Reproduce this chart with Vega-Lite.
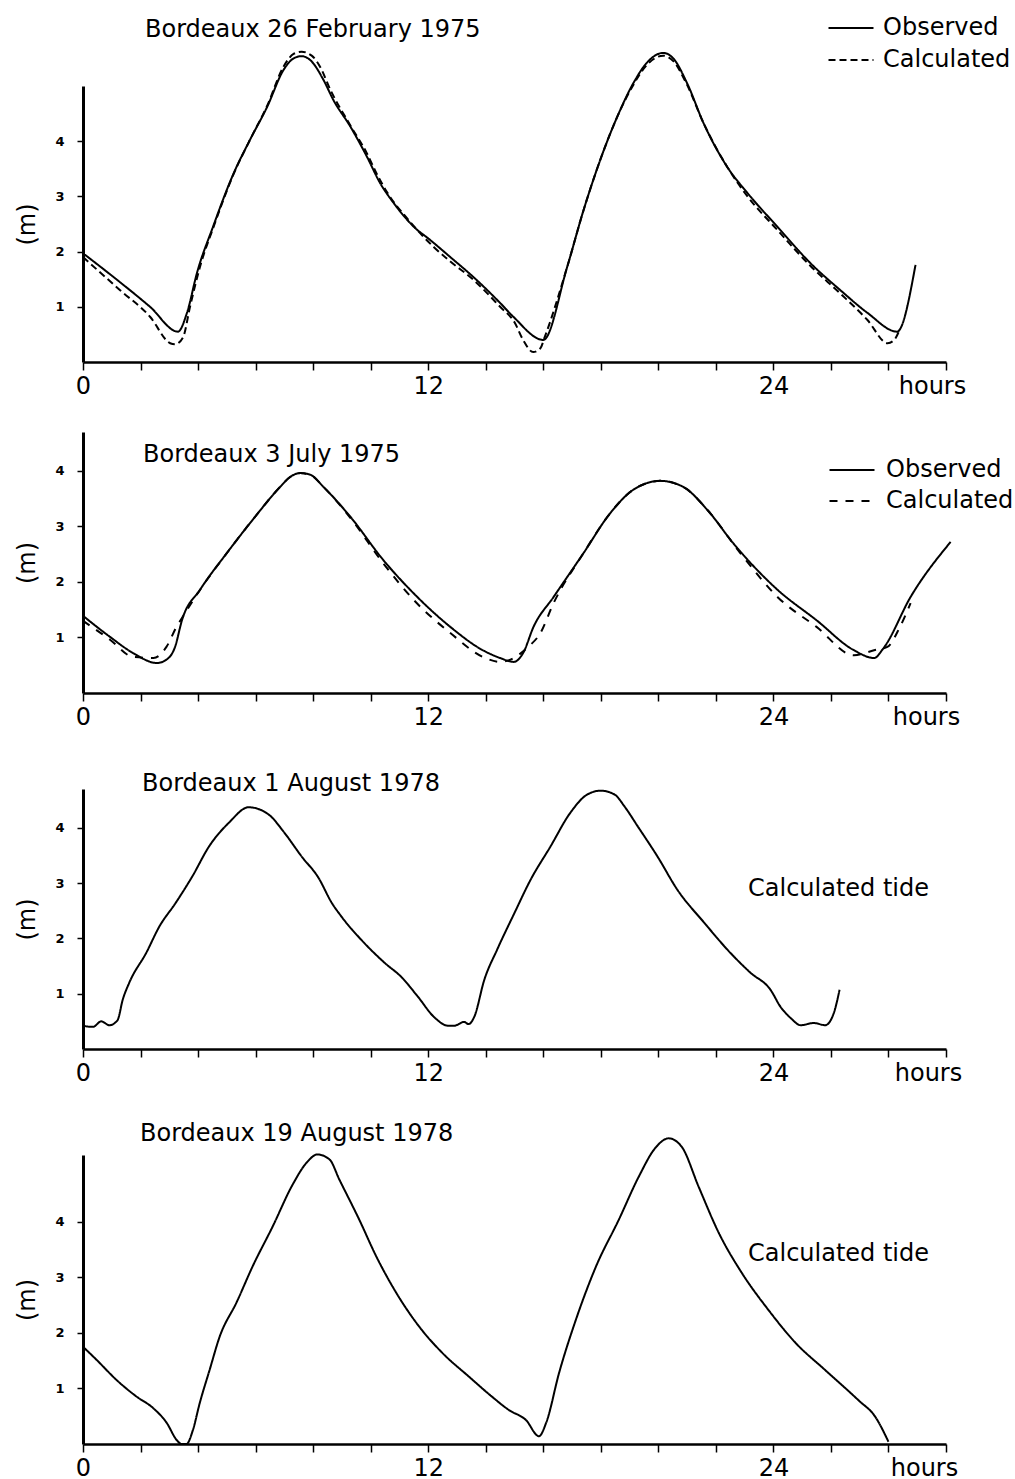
{
  "$schema": "https://vega.github.io/schema/vega-lite/v6.json",
  "padding": {"left": 15, "top": 16, "right": 5, "bottom": 5},
  "background": "white",
  "vconcat": [
    {
      "width": 863,
      "height": 276,
      "title": {"text": "Bordeaux 26 February 1975", "anchor": "start", "frame": "group", "offset": 0, "dx": 62, "dy": 26},
      "data": {"values": [
        {"hour": 0, "level": 1.97, "series": "Observed"}, {"hour": 1.18, "level": 1.49, "series": "Observed"}, {"hour": 2.33, "level": 1.0, "series": "Observed"}, {"hour": 3.3, "level": 0.55, "series": "Observed"}, {"hour": 3.62, "level": 0.9, "series": "Observed"}, {"hour": 3.96, "level": 1.61, "series": "Observed"}, {"hour": 4.52, "level": 2.45, "series": "Observed"}, {"hour": 5.23, "level": 3.41, "series": "Observed"}, {"hour": 5.8, "level": 4.02, "series": "Observed"}, {"hour": 6.4, "level": 4.62, "series": "Observed"}, {"hour": 6.97, "level": 5.29, "series": "Observed"}, {"hour": 7.32, "level": 5.5, "series": "Observed"}, {"hour": 7.6, "level": 5.54, "series": "Observed"}, {"hour": 7.9, "level": 5.47, "series": "Observed"}, {"hour": 8.36, "level": 5.11, "series": "Observed"}, {"hour": 8.7, "level": 4.75, "series": "Observed"}, {"hour": 9.3, "level": 4.26, "series": "Observed"}, {"hour": 9.87, "level": 3.72, "series": "Observed"}, {"hour": 10.33, "level": 3.24, "series": "Observed"}, {"hour": 10.8, "level": 2.88, "series": "Observed"}, {"hour": 11.5, "level": 2.45, "series": "Observed"}, {"hour": 12.07, "level": 2.21, "series": "Observed"}, {"hour": 12.77, "level": 1.9, "series": "Observed"}, {"hour": 13.57, "level": 1.54, "series": "Observed"}, {"hour": 14.5, "level": 1.07, "series": "Observed"}, {"hour": 14.96, "level": 0.82, "series": "Observed"}, {"hour": 16.0, "level": 0.4, "series": "Observed"}, {"hour": 16.83, "level": 1.72, "series": "Observed"}, {"hour": 17.4, "level": 2.75, "series": "Observed"}, {"hour": 17.98, "level": 3.66, "series": "Observed"}, {"hour": 18.57, "level": 4.44, "series": "Observed"}, {"hour": 19.13, "level": 5.05, "series": "Observed"}, {"hour": 19.6, "level": 5.42, "series": "Observed"}, {"hour": 20.17, "level": 5.6, "series": "Observed"}, {"hour": 20.52, "level": 5.5, "series": "Observed"}, {"hour": 21.0, "level": 5.05, "series": "Observed"}, {"hour": 21.57, "level": 4.33, "series": "Observed"}, {"hour": 22.4, "level": 3.53, "series": "Observed"}, {"hour": 23.1, "level": 3.06, "series": "Observed"}, {"hour": 24.14, "level": 2.45, "series": "Observed"}, {"hour": 25.29, "level": 1.79, "series": "Observed"}, {"hour": 26.33, "level": 1.3, "series": "Observed"}, {"hour": 27.27, "level": 0.89, "series": "Observed"}, {"hour": 28.3, "level": 0.55, "series": "Observed"}, {"hour": 28.94, "level": 1.76, "series": "Observed"},
        {"hour": 0, "level": 1.9, "series": "Calculated"}, {"hour": 1.29, "level": 1.3, "series": "Calculated"}, {"hour": 2.33, "level": 0.82, "series": "Calculated"}, {"hour": 3.03, "level": 0.34, "series": "Calculated"}, {"hour": 3.2, "level": 0.32, "series": "Calculated"}, {"hour": 3.48, "level": 0.45, "series": "Calculated"}, {"hour": 3.72, "level": 1.0, "series": "Calculated"}, {"hour": 4.07, "level": 1.73, "series": "Calculated"}, {"hour": 4.52, "level": 2.42, "series": "Calculated"}, {"hour": 5.23, "level": 3.4, "series": "Calculated"}, {"hour": 5.8, "level": 4.02, "series": "Calculated"}, {"hour": 6.4, "level": 4.64, "series": "Calculated"}, {"hour": 6.97, "level": 5.35, "series": "Calculated"}, {"hour": 7.32, "level": 5.58, "series": "Calculated"}, {"hour": 7.6, "level": 5.62, "series": "Calculated"}, {"hour": 7.95, "level": 5.55, "series": "Calculated"}, {"hour": 8.24, "level": 5.35, "series": "Calculated"}, {"hour": 8.6, "level": 4.93, "series": "Calculated"}, {"hour": 9.3, "level": 4.28, "series": "Calculated"}, {"hour": 9.87, "level": 3.78, "series": "Calculated"}, {"hour": 10.2, "level": 3.42, "series": "Calculated"}, {"hour": 10.6, "level": 3.05, "series": "Calculated"}, {"hour": 11.27, "level": 2.6, "series": "Calculated"}, {"hour": 12.2, "level": 2.08, "series": "Calculated"}, {"hour": 12.77, "level": 1.82, "series": "Calculated"}, {"hour": 13.57, "level": 1.49, "series": "Calculated"}, {"hour": 14.5, "level": 1.0, "series": "Calculated"}, {"hour": 15.0, "level": 0.72, "series": "Calculated"}, {"hour": 15.3, "level": 0.4, "series": "Calculated"}, {"hour": 15.65, "level": 0.18, "series": "Calculated"}, {"hour": 15.9, "level": 0.25, "series": "Calculated"}, {"hour": 16.05, "level": 0.45, "series": "Calculated"}, {"hour": 16.83, "level": 1.72, "series": "Calculated"}, {"hour": 17.4, "level": 2.75, "series": "Calculated"}, {"hour": 17.98, "level": 3.66, "series": "Calculated"}, {"hour": 18.57, "level": 4.44, "series": "Calculated"}, {"hour": 19.13, "level": 5.02, "series": "Calculated"}, {"hour": 19.6, "level": 5.38, "series": "Calculated"}, {"hour": 20.17, "level": 5.55, "series": "Calculated"}, {"hour": 20.52, "level": 5.45, "series": "Calculated"}, {"hour": 21.0, "level": 5.02, "series": "Calculated"}, {"hour": 21.57, "level": 4.33, "series": "Calculated"}, {"hour": 22.4, "level": 3.53, "series": "Calculated"}, {"hour": 23.1, "level": 3.0, "series": "Calculated"}, {"hour": 24.14, "level": 2.39, "series": "Calculated"}, {"hour": 25.29, "level": 1.74, "series": "Calculated"}, {"hour": 26.33, "level": 1.24, "series": "Calculated"}, {"hour": 27.27, "level": 0.76, "series": "Calculated"}, {"hour": 27.97, "level": 0.34, "series": "Calculated"}, {"hour": 28.2, "level": 0.4, "series": "Calculated"}, {"hour": 28.4, "level": 0.6, "series": "Calculated"}
      ]},
      "mark": {"type": "line", "strokeWidth": 2, "color": "black", "interpolate": "monotone"},
      "encoding": {
        "x": {"field": "hour", "type": "quantitative", "scale": {"domain": [0, 30], "nice": false, "zero": false},
          "axis": {"title": null, "values": [0, 2, 4, 6, 8, 10, 12, 14, 16, 18, 20, 22, 24, 26, 28, 30], "labelExpr": "datum.value == 30 ? 'hours' : (datum.value % 12 == 0 ? datum.label : '')", "labelOffset": {"condition": {"test": "datum.value == 30", "value": -14}, "value": 0}}},
        "y": {"field": "level", "type": "quantitative", "scale": {"domain": [0, 5], "nice": false, "range": [276, 0]},
          "axis": {"title": "(m)", "values": [1, 2, 3, 4]}},
        "strokeDash": {"field": "series", "type": "nominal", "scale": {"domain": ["Observed", "Calculated"], "range": [[1, 0], [7, 4]]},
          "legend": {"orient": "none", "legendX": 756, "legendY": -70, "labelOffset": 20}}
      }
    },
    {
      "width": 863,
      "height": 331,
      "title": {"text": "Bordeaux 3 July 1975", "anchor": "start", "frame": "group", "offset": 0, "dx": 60, "dy": 105},
      "data": {"values": [
        {"hour": 0, "level": 1.39, "series": "Observed"}, {"hour": 0.94, "level": 1.01, "series": "Observed"}, {"hour": 1.74, "level": 0.72, "series": "Observed"}, {"hour": 2.57, "level": 0.54, "series": "Observed"}, {"hour": 2.9, "level": 0.6, "series": "Observed"}, {"hour": 3.2, "level": 0.83, "series": "Observed"}, {"hour": 3.44, "level": 1.31, "series": "Observed"}, {"hour": 4.07, "level": 1.86, "series": "Observed"}, {"hour": 5.0, "level": 2.52, "series": "Observed"}, {"hour": 5.9, "level": 3.12, "series": "Observed"}, {"hour": 6.85, "level": 3.71, "series": "Observed"}, {"hour": 7.2, "level": 3.89, "series": "Observed"}, {"hour": 7.55, "level": 3.96, "series": "Observed"}, {"hour": 7.9, "level": 3.93, "series": "Observed"}, {"hour": 8.36, "level": 3.71, "series": "Observed"}, {"hour": 9.3, "level": 3.17, "series": "Observed"}, {"hour": 10.43, "level": 2.4, "series": "Observed"}, {"hour": 11.6, "level": 1.74, "series": "Observed"}, {"hour": 12.77, "level": 1.19, "series": "Observed"}, {"hour": 13.9, "level": 0.77, "series": "Observed"}, {"hour": 14.5, "level": 0.63, "series": "Observed"}, {"hour": 14.97, "level": 0.56, "series": "Observed"}, {"hour": 15.3, "level": 0.72, "series": "Observed"}, {"hour": 15.66, "level": 1.19, "series": "Observed"}, {"hour": 16.36, "level": 1.73, "series": "Observed"}, {"hour": 17.4, "level": 2.52, "series": "Observed"}, {"hour": 18.33, "level": 3.24, "series": "Observed"}, {"hour": 19.13, "level": 3.66, "series": "Observed"}, {"hour": 20.07, "level": 3.82, "series": "Observed"}, {"hour": 20.87, "level": 3.71, "series": "Observed"}, {"hour": 21.7, "level": 3.3, "series": "Observed"}, {"hour": 22.6, "level": 2.7, "series": "Observed"}, {"hour": 24.14, "level": 1.86, "series": "Observed"}, {"hour": 25.5, "level": 1.31, "series": "Observed"}, {"hour": 26.8, "level": 0.77, "series": "Observed"}, {"hour": 27.5, "level": 0.63, "series": "Observed"}, {"hour": 27.83, "level": 0.81, "series": "Observed"}, {"hour": 28.77, "level": 1.73, "series": "Observed"}, {"hour": 30.16, "level": 2.72, "series": "Observed"},
        {"hour": 0, "level": 1.3, "series": "Calculated"}, {"hour": 0.94, "level": 0.96, "series": "Calculated"}, {"hour": 1.74, "level": 0.65, "series": "Calculated"}, {"hour": 2.45, "level": 0.63, "series": "Calculated"}, {"hour": 2.9, "level": 0.83, "series": "Calculated"}, {"hour": 3.25, "level": 1.19, "series": "Calculated"}, {"hour": 3.44, "level": 1.35, "series": "Calculated"}, {"hour": 4.07, "level": 1.86, "series": "Calculated"}, {"hour": 5.0, "level": 2.52, "series": "Calculated"}, {"hour": 5.9, "level": 3.12, "series": "Calculated"}, {"hour": 6.85, "level": 3.71, "series": "Calculated"}, {"hour": 7.2, "level": 3.89, "series": "Calculated"}, {"hour": 7.55, "level": 3.96, "series": "Calculated"}, {"hour": 7.9, "level": 3.93, "series": "Calculated"}, {"hour": 8.36, "level": 3.71, "series": "Calculated"}, {"hour": 9.3, "level": 3.15, "series": "Calculated"}, {"hour": 10.43, "level": 2.34, "series": "Calculated"}, {"hour": 11.6, "level": 1.62, "series": "Calculated"}, {"hour": 12.77, "level": 1.08, "series": "Calculated"}, {"hour": 13.9, "level": 0.65, "series": "Calculated"}, {"hour": 14.5, "level": 0.56, "series": "Calculated"}, {"hour": 14.97, "level": 0.63, "series": "Calculated"}, {"hour": 15.43, "level": 0.81, "series": "Calculated"}, {"hour": 15.9, "level": 1.08, "series": "Calculated"}, {"hour": 16.36, "level": 1.62, "series": "Calculated"}, {"hour": 17.4, "level": 2.52, "series": "Calculated"}, {"hour": 18.33, "level": 3.24, "series": "Calculated"}, {"hour": 19.13, "level": 3.66, "series": "Calculated"}, {"hour": 20.07, "level": 3.82, "series": "Calculated"}, {"hour": 20.87, "level": 3.71, "series": "Calculated"}, {"hour": 21.7, "level": 3.3, "series": "Calculated"}, {"hour": 22.85, "level": 2.52, "series": "Calculated"}, {"hour": 24.14, "level": 1.73, "series": "Calculated"}, {"hour": 25.5, "level": 1.19, "series": "Calculated"}, {"hour": 26.8, "level": 0.68, "series": "Calculated"}, {"hour": 27.5, "level": 0.77, "series": "Calculated"}, {"hour": 27.96, "level": 0.83, "series": "Calculated"}, {"hour": 28.4, "level": 1.19, "series": "Calculated"}, {"hour": 28.77, "level": 1.62, "series": "Calculated"}
      ]},
      "mark": {"type": "line", "strokeWidth": 2, "color": "black", "interpolate": "monotone"},
      "encoding": {
        "x": {"field": "hour", "type": "quantitative", "scale": {"domain": [0, 30], "nice": false, "zero": false},
          "axis": {"title": null, "values": [0, 2, 4, 6, 8, 10, 12, 14, 16, 18, 20, 22, 24, 26, 28, 30], "labelExpr": "datum.value == 30 ? 'hours' : (datum.value % 12 == 0 ? datum.label : '')", "labelOffset": {"condition": {"test": "datum.value == 30", "value": -20}, "value": 0}}},
        "y": {"field": "level", "type": "quantitative", "scale": {"domain": [0, 4.7], "nice": false, "range": [331, 70]},
          "axis": {"title": "(m)", "values": [1, 2, 3, 4]}},
        "strokeDash": {"field": "series", "type": "nominal", "scale": {"domain": ["Observed", "Calculated"], "range": [[1, 0], [8, 8]]},
          "legend": {"orient": "none", "legendX": 757, "legendY": 96, "labelOffset": 22, "rowPadding": 7}}
      }
    },
    {
      "width": 863,
      "height": 356,
      "title": {"text": "Bordeaux 1 August 1978", "anchor": "start", "frame": "group", "offset": 0, "dx": 59, "dy": 103},
      "data": {"values": [
        {"hour": 0, "level": 0.42, "series": "Calculated tide"}, {"hour": 0.35, "level": 0.4, "series": "Calculated tide"}, {"hour": 0.63, "level": 0.5, "series": "Calculated tide"}, {"hour": 0.92, "level": 0.43, "series": "Calculated tide"}, {"hour": 1.2, "level": 0.52, "series": "Calculated tide"}, {"hour": 1.38, "level": 0.89, "series": "Calculated tide"}, {"hour": 1.61, "level": 1.2, "series": "Calculated tide"}, {"hour": 2.2, "level": 1.74, "series": "Calculated tide"}, {"hour": 2.65, "level": 2.21, "series": "Calculated tide"}, {"hour": 3.22, "level": 2.64, "series": "Calculated tide"}, {"hour": 3.8, "level": 3.12, "series": "Calculated tide"}, {"hour": 4.38, "level": 3.66, "series": "Calculated tide"}, {"hour": 5.07, "level": 4.09, "series": "Calculated tide"}, {"hour": 5.76, "level": 4.37, "series": "Calculated tide"}, {"hour": 6.45, "level": 4.24, "series": "Calculated tide"}, {"hour": 7.0, "level": 3.91, "series": "Calculated tide"}, {"hour": 7.6, "level": 3.48, "series": "Calculated tide"}, {"hour": 8.18, "level": 3.1, "series": "Calculated tide"}, {"hour": 8.65, "level": 2.64, "series": "Calculated tide"}, {"hour": 8.99, "level": 2.39, "series": "Calculated tide"}, {"hour": 9.68, "level": 1.97, "series": "Calculated tide"}, {"hour": 10.48, "level": 1.56, "series": "Calculated tide"}, {"hour": 11.07, "level": 1.3, "series": "Calculated tide"}, {"hour": 11.65, "level": 0.94, "series": "Calculated tide"}, {"hour": 12.2, "level": 0.58, "series": "Calculated tide"}, {"hour": 12.7, "level": 0.42, "series": "Calculated tide"}, {"hour": 12.9, "level": 0.42, "series": "Calculated tide"}, {"hour": 13.25, "level": 0.49, "series": "Calculated tide"}, {"hour": 13.4, "level": 0.45, "series": "Calculated tide"}, {"hour": 13.6, "level": 0.58, "series": "Calculated tide"}, {"hour": 13.95, "level": 1.25, "series": "Calculated tide"}, {"hour": 14.4, "level": 1.8, "series": "Calculated tide"}, {"hour": 15.0, "level": 2.46, "series": "Calculated tide"}, {"hour": 15.56, "level": 3.06, "series": "Calculated tide"}, {"hour": 16.25, "level": 3.66, "series": "Calculated tide"}, {"hour": 16.94, "level": 4.27, "series": "Calculated tide"}, {"hour": 17.53, "level": 4.6, "series": "Calculated tide"}, {"hour": 18.0, "level": 4.67, "series": "Calculated tide"}, {"hour": 18.48, "level": 4.6, "series": "Calculated tide"}, {"hour": 18.83, "level": 4.38, "series": "Calculated tide"}, {"hour": 19.29, "level": 4.02, "series": "Calculated tide"}, {"hour": 19.97, "level": 3.48, "series": "Calculated tide"}, {"hour": 20.66, "level": 2.88, "series": "Calculated tide"}, {"hour": 21.6, "level": 2.28, "series": "Calculated tide"}, {"hour": 22.5, "level": 1.74, "series": "Calculated tide"}, {"hour": 23.2, "level": 1.38, "series": "Calculated tide"}, {"hour": 23.9, "level": 1.07, "series": "Calculated tide"}, {"hour": 24.25, "level": 0.76, "series": "Calculated tide"}, {"hour": 24.6, "level": 0.56, "series": "Calculated tide"}, {"hour": 24.95, "level": 0.43, "series": "Calculated tide"}, {"hour": 25.4, "level": 0.47, "series": "Calculated tide"}, {"hour": 25.8, "level": 0.43, "series": "Calculated tide"}, {"hour": 26.1, "level": 0.65, "series": "Calculated tide"}, {"hour": 26.3, "level": 1.07, "series": "Calculated tide"}
      ]},
      "mark": {"type": "line", "strokeWidth": 2, "color": "black", "interpolate": "monotone"},
      "encoding": {
        "x": {"field": "hour", "type": "quantitative", "scale": {"domain": [0, 30], "nice": false, "zero": false},
          "axis": {"title": null, "values": [0, 2, 4, 6, 8, 10, 12, 14, 16, 18, 20, 22, 24, 26, 28, 30], "labelExpr": "datum.value == 30 ? 'hours' : (datum.value % 12 == 0 ? datum.label : '')", "labelOffset": {"condition": {"test": "datum.value == 30", "value": -18}, "value": 0}}},
        "y": {"field": "level", "type": "quantitative", "scale": {"domain": [0, 4.7], "nice": false, "range": [356, 96]},
          "axis": {"title": "(m)", "values": [1, 2, 3, 4]}},
        "strokeDash": {"field": "series", "type": "nominal", "scale": {"domain": ["Calculated tide"], "range": [[1, 0]]},
          "legend": {"orient": "none", "legendX": 617, "legendY": 184, "labelOffset": 24, "symbolOpacity": 0}}
      }
    },
    {
      "width": 863,
      "height": 395,
      "title": {"text": "Bordeaux 19 August 1978", "anchor": "start", "frame": "group", "offset": 0, "dx": 57, "dy": 97},
      "data": {"values": [
        {"hour": 0, "level": 1.75, "series": "Calculated tide"}, {"hour": 0.48, "level": 1.51, "series": "Calculated tide"}, {"hour": 1.17, "level": 1.15, "series": "Calculated tide"}, {"hour": 1.87, "level": 0.85, "series": "Calculated tide"}, {"hour": 2.43, "level": 0.65, "series": "Calculated tide"}, {"hour": 2.91, "level": 0.38, "series": "Calculated tide"}, {"hour": 3.26, "level": 0.07, "series": "Calculated tide"}, {"hour": 3.43, "level": 0.0, "series": "Calculated tide"}, {"hour": 3.6, "level": 0.0, "series": "Calculated tide"}, {"hour": 3.82, "level": 0.25, "series": "Calculated tide"}, {"hour": 4.06, "level": 0.74, "series": "Calculated tide"}, {"hour": 4.4, "level": 1.33, "series": "Calculated tide"}, {"hour": 4.75, "level": 1.93, "series": "Calculated tide"}, {"hour": 5.34, "level": 2.55, "series": "Calculated tide"}, {"hour": 5.9, "level": 3.2, "series": "Calculated tide"}, {"hour": 6.59, "level": 3.91, "series": "Calculated tide"}, {"hour": 7.28, "level": 4.66, "series": "Calculated tide"}, {"hour": 7.77, "level": 5.06, "series": "Calculated tide"}, {"hour": 8.15, "level": 5.21, "series": "Calculated tide"}, {"hour": 8.57, "level": 5.12, "series": "Calculated tide"}, {"hour": 8.91, "level": 4.76, "series": "Calculated tide"}, {"hour": 9.6, "level": 4.04, "series": "Calculated tide"}, {"hour": 10.2, "level": 3.37, "series": "Calculated tide"}, {"hour": 10.89, "level": 2.72, "series": "Calculated tide"}, {"hour": 11.69, "level": 2.11, "series": "Calculated tide"}, {"hour": 12.49, "level": 1.64, "series": "Calculated tide"}, {"hour": 13.42, "level": 1.21, "series": "Calculated tide"}, {"hour": 14.22, "level": 0.85, "series": "Calculated tide"}, {"hour": 14.81, "level": 0.61, "series": "Calculated tide"}, {"hour": 15.4, "level": 0.43, "series": "Calculated tide"}, {"hour": 15.85, "level": 0.14, "series": "Calculated tide"}, {"hour": 16.1, "level": 0.38, "series": "Calculated tide"}, {"hour": 16.55, "level": 1.28, "series": "Calculated tide"}, {"hour": 17.13, "level": 2.23, "series": "Calculated tide"}, {"hour": 17.83, "level": 3.19, "series": "Calculated tide"}, {"hour": 18.63, "level": 4.04, "series": "Calculated tide"}, {"hour": 19.32, "level": 4.81, "series": "Calculated tide"}, {"hour": 19.9, "level": 5.33, "series": "Calculated tide"}, {"hour": 20.36, "level": 5.5, "series": "Calculated tide"}, {"hour": 20.81, "level": 5.35, "series": "Calculated tide"}, {"hour": 21.4, "level": 4.63, "series": "Calculated tide"}, {"hour": 22.1, "level": 3.8, "series": "Calculated tide"}, {"hour": 22.9, "level": 3.08, "series": "Calculated tide"}, {"hour": 23.83, "level": 2.41, "series": "Calculated tide"}, {"hour": 24.77, "level": 1.82, "series": "Calculated tide"}, {"hour": 25.8, "level": 1.33, "series": "Calculated tide"}, {"hour": 26.95, "level": 0.79, "series": "Calculated tide"}, {"hour": 27.54, "level": 0.49, "series": "Calculated tide"}, {"hour": 28.0, "level": 0.04, "series": "Calculated tide"}
      ]},
      "mark": {"type": "line", "strokeWidth": 2, "color": "black", "interpolate": "monotone"},
      "encoding": {
        "x": {"field": "hour", "type": "quantitative", "scale": {"domain": [0, 30], "nice": false, "zero": false},
          "axis": {"title": null, "values": [0, 2, 4, 6, 8, 10, 12, 14, 16, 18, 20, 22, 24, 26, 28, 30], "labelExpr": "datum.value == 30 ? 'hours' : (datum.value % 12 == 0 ? datum.label : '')", "labelOffset": {"condition": {"test": "datum.value == 30", "value": -22}, "value": 0}}},
        "y": {"field": "level", "type": "quantitative", "scale": {"domain": [0, 5.2], "nice": false, "range": [395, 106]},
          "axis": {"title": "(m)", "values": [1, 2, 3, 4]}},
        "strokeDash": {"field": "series", "type": "nominal", "scale": {"domain": ["Calculated tide"], "range": [[1, 0]]},
          "legend": {"orient": "none", "legendX": 617, "legendY": 193, "labelOffset": 24, "symbolOpacity": 0}}
      }
    }
  ],
  "spacing": 0,
  "bounds": "flush",
  "resolve": {"scale": {"strokeDash": "independent", "x": "independent", "y": "independent"}, "legend": {"strokeDash": "independent"}},
  "config": {
    "view": {"stroke": null},
    "font": "DejaVu Sans",
    "title": {"font": "DejaVu Sans", "fontSize": 24, "fontWeight": "normal", "color": "black"},
    "axis": {"grid": false, "domainColor": "black", "tickColor": "black", "labelColor": "black", "titleColor": "black", "labelFont": "DejaVu Sans", "titleFont": "DejaVu Sans"},
    "axisX": {"domainWidth": 2.5, "tickWidth": 1.5, "tickSize": 8, "labelFontSize": 24, "labelPadding": 4, "labelOverlap": false, "labelFlush": false},
    "axisY": {"domainWidth": 3, "tickWidth": 1.5, "tickSize": 6, "labelFontSize": 13, "labelFontWeight": "bold", "labelPadding": 13, "titleFontSize": 24, "titleFontWeight": "normal", "titlePadding": 15},
    "legend": {"title": null, "padding": 0, "symbolType": "M-2.5,0H2.5", "symbolSize": 324, "symbolStrokeWidth": 2, "symbolStrokeColor": "black", "labelFont": "DejaVu Sans", "labelFontSize": 24, "labelColor": "black", "labelLimit": 0, "rowPadding": 8}
  }
}
